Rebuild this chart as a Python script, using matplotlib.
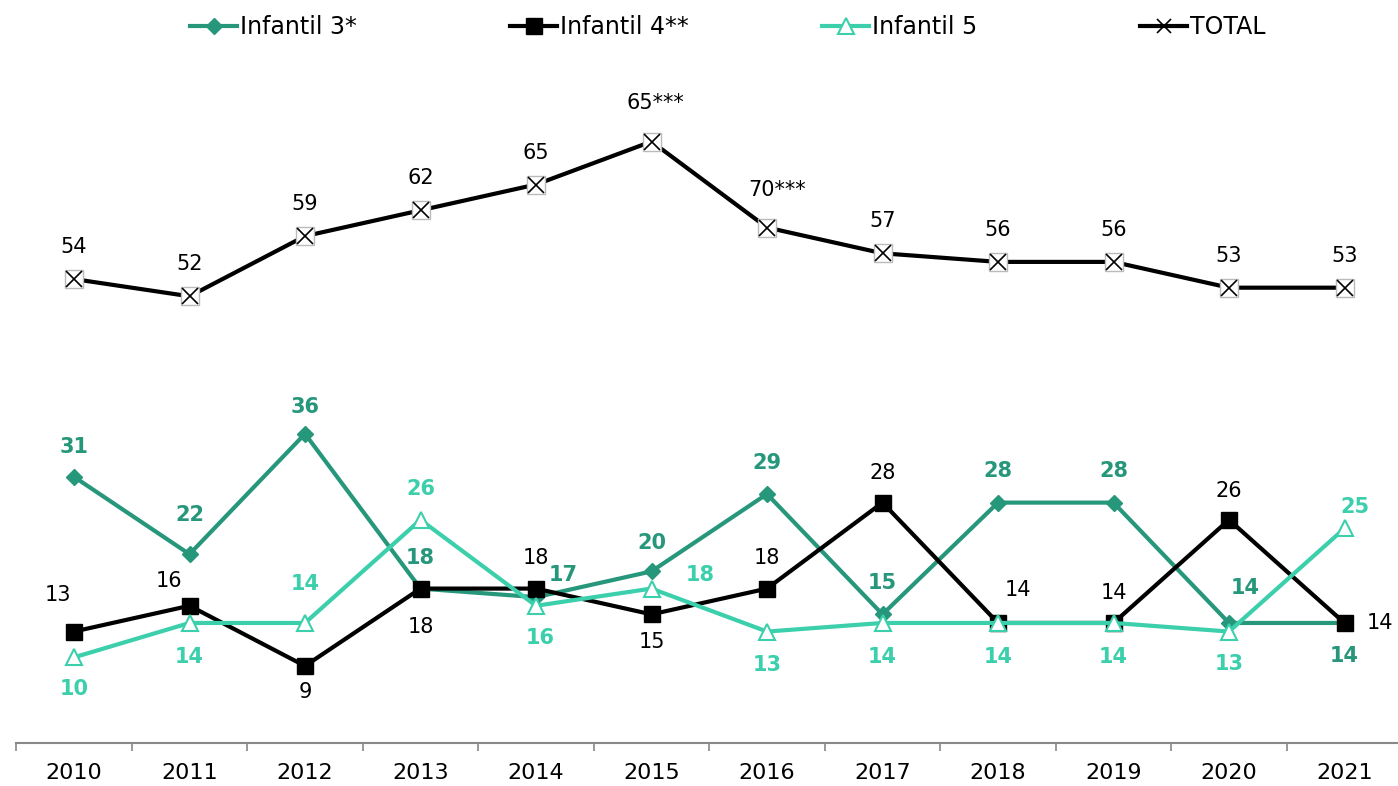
import matplotlib.pyplot as plt
import numpy as np

years = ['2010', '2011', '2012', '2013', '2014', '2015',
         '2016', '2017', '2018', '2019', '2020', '2021']
infantil3 = [31, 22, 36, 18, 17, 20, 29, 15, 28, 28, 14, 14]
infantil4 = [13, 16, 9, 18, 18, 15, 18, 28, 14, 14, 26, 14]
infantil5 = [10, 14, 14, 26, 16, 18, 13, 14, 14, 14, 13, 25]
total = [54, 52, 59, 62, 65, 70, 60, 57, 56, 56, 53, 53]
total_labels = ['54', '52', '59', '62', '65', '65***', '70***',
                '57', '56', '56', '53', '53']

# label offsets in pixels (dx, dy)
off_total = [(0, 32)] * 5 + [(4, 39), (10, 38)] + [(0, 32)] * 5
off_i3 = [(0, 30), (0, 39), (0, 27), (0, 31), (27, 22), (0, 28),
          (0, 31), (0, 31), (0, 32), (0, 32), (16, 35), (0, -33)]
off_i4 = [(-16, 37), (-21, 25), (0, -26), (0, -38), (0, 31), (0, -28),
          (0, 31), (0, 30), (20, 33), (0, 30), (0, 29), (35, 0)]
off_i5 = [(0, -32), (0, -34), (0, 39), (0, 31), (4, -32), (49, 14),
          (0, -33), (0, -34), (0, -34), (0, -34), (0, -32), (10, 21)]

c3 = '#27977c'
c5 = '#3ccfac'

x = np.arange(len(years))

fig = plt.figure(figsize=(13.98, 7.86), dpi=100)
ax = fig.add_axes([16.25 / 1398, 0.0543, 1386 / 1398, 0.875])

l3, = ax.plot(x, infantil3, color=c3, lw=3, marker='D', ms=8, mfc=c3,
              mec=c3, label='Infantil 3*', zorder=3)
l4, = ax.plot(x, infantil4, color='black', lw=3, marker='s', ms=11,
              label='Infantil 4**', zorder=4)
l5, = ax.plot(x, infantil5, color=c5, lw=3, marker='^', ms=11, mfc='white',
              mec=c5, mew=1.5, label='Infantil 5', zorder=5)
ax.plot(x, total, color='black', lw=3, marker='s', ms=13, mfc='white',
        mec='#bbbbbb', mew=1, zorder=3)
ax.plot(x, total, ls='none', marker='x', ms=12, mec='black', mew=1.2,
        zorder=4)
# legend proxy for TOTAL
lt, = ax.plot([], [], color='black', lw=3, marker='x', ms=10, mfc='white',
              mec='black', mew=1.2, label='TOTAL')

for i in range(len(years)):
    ax.annotate(total_labels[i], (x[i], total[i]), xytext=off_total[i],
                textcoords='offset pixels', ha='center', va='center',
                fontsize=15, color='black')
    ax.annotate(str(infantil3[i]), (x[i], infantil3[i]), xytext=off_i3[i],
                textcoords='offset pixels', ha='center', va='center',
                fontsize=15, color=c3, fontweight='bold')
    ax.annotate(str(infantil4[i]), (x[i], infantil4[i]), xytext=off_i4[i],
                textcoords='offset pixels', ha='center', va='center',
                fontsize=15, color='black')
    ax.annotate(str(infantil5[i]), (x[i], infantil5[i]), xytext=off_i5[i],
                textcoords='offset pixels', ha='center', va='center',
                fontsize=15, color=c5, fontweight='bold')

ax.set_xlim(-0.5, 11.5)
ax.set_ylim(0, 80)
ax.set_yticks([])
for s in ['left', 'right', 'top']:
    ax.spines[s].set_visible(False)
ax.spines['bottom'].set_color('#888888')
ax.spines['bottom'].set_linewidth(1.5)
ax.set_xticks(x)
ax.set_xticklabels(years, fontsize=16)
ax.tick_params(axis='x', which='major', length=0, pad=14)
ax.set_xticks(np.arange(-0.5, 11.6, 1), minor=True)
ax.tick_params(axis='x', which='minor', length=6, color='#888888', width=1.2)

# one legend per entry, placed like the original
leg_x = [190, 510, 822, 1140]
for h, lx in zip([l3, l4, l5, lt], leg_x):
    fig.legend(handles=[h], loc='center left',
               bbox_to_anchor=(lx / 1398, 1 - 27 / 786), frameon=False,
               fontsize=17, handlelength=2.0, handletextpad=0.1,
               borderpad=0, borderaxespad=0)

fig.savefig('out.png', dpi=100)
